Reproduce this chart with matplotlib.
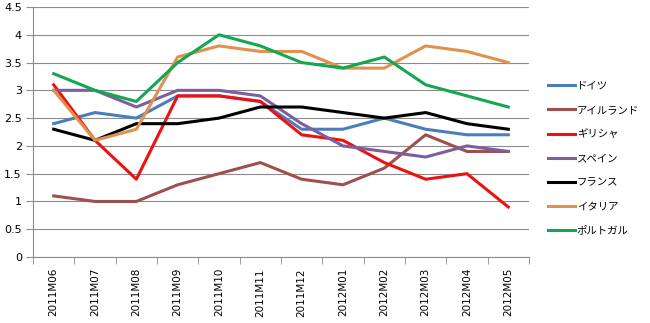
import matplotlib.pyplot as plt
import numpy as np

plt.rcParams['font.family'] = ['DejaVu Sans', 'Noto Sans CJK JP']

months = ['2011M06', '2011M07', '2011M08', '2011M09', '2011M10', '2011M11',
          '2011M12', '2012M01', '2012M02', '2012M03', '2012M04', '2012M05']

germany = [2.4, 2.6, 2.5, 2.9, 2.9, 2.8, 2.3, 2.3, 2.5, 2.3, 2.2, 2.2]
ireland = [1.1, 1.0, 1.0, 1.3, 1.5, 1.7, 1.4, 1.3, 1.6, 2.2, 1.9, 1.9]
greece = [3.1, 2.1, 1.4, 2.9, 2.9, 2.8, 2.2, 2.1, 1.7, 1.4, 1.5, 0.9]
spain = [3.0, 3.0, 2.7, 3.0, 3.0, 2.9, 2.4, 2.0, 1.9, 1.8, 2.0, 1.9]
france = [2.3, 2.1, 2.4, 2.4, 2.5, 2.7, 2.7, 2.6, 2.5, 2.6, 2.4, 2.3]
italy = [3.0, 2.1, 2.3, 3.6, 3.8, 3.7, 3.7, 3.4, 3.4, 3.8, 3.7, 3.5]
portugal = [3.3, 3.0, 2.8, 3.5, 4.0, 3.8, 3.5, 3.4, 3.6, 3.1, 2.9, 2.7]

names = ['ドイツ', 'アイルランド', 'ギリシャ', 'スペイン', 'フランス', 'イタリア', 'ポルトガル']
series = [germany, ireland, greece, spain, france, italy, portugal]
colors = ['#4a7ebb', '#a0504c', '#ee1111', '#7d5f9e', '#000000', '#e0914c', '#14a650']

fig = plt.figure(figsize=(6.5, 3.23), dpi=100)
ax = fig.add_axes([0.0508, 0.2043, 0.763, 0.774])

x = np.arange(len(months))
for vals, name, c in zip(series, names, colors):
    ax.plot(x, vals, color=c, lw=2.2, label=name, solid_joinstyle='round')

ax.set_xlim(-0.5, len(months) - 0.5)
ax.set_ylim(0, 4.5)
ax.set_yticks(np.arange(0, 4.51, 0.5))
ax.set_yticklabels(['%g' % v for v in np.arange(0, 4.51, 0.5)], fontsize=8)
ax.yaxis.grid(True, color='#8c8c8c', lw=0.8)
ax.set_axisbelow(True)

ax.set_xticks(x)
ax.set_xticklabels(months, rotation=90, fontsize=7.5)
ax.set_xticks(np.arange(-0.5, len(months), 1), minor=True)
ax.tick_params(axis='x', which='major', length=0, pad=8)
ax.tick_params(axis='x', which='minor', length=5, color='#8c8c8c', direction='out')
ax.tick_params(axis='y', length=5, color='#8c8c8c', pad=3)

for s in ['top', 'right']:
    ax.spines[s].set_visible(False)
for s in ['left', 'bottom']:
    ax.spines[s].set_color('#8c8c8c')

# legend sits a little below the middle of the plot area, as in Excel
fig.legend(loc='center left', bbox_to_anchor=(0.828, 0.51), frameon=False,
           prop={'family': ['Noto Sans CJK JP'], 'size': 7.5},
           handlelength=2.6, handletextpad=0.2, labelspacing=1.35)

fig.savefig('out.png', dpi=100)
